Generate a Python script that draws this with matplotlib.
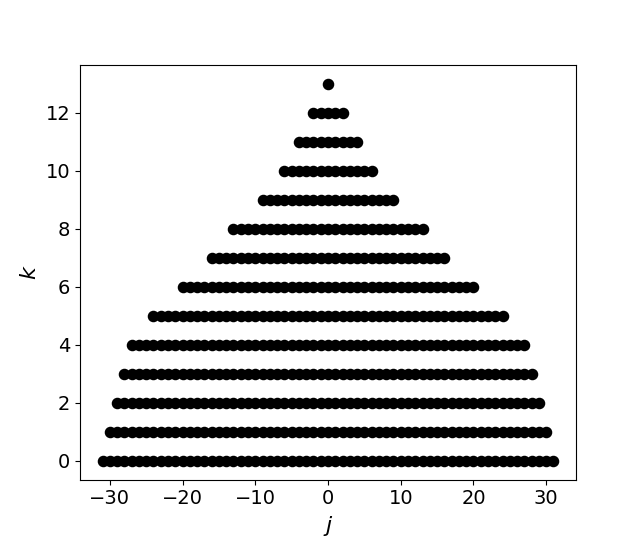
import numpy as np
from matplotlib import pyplot as plt

# row index k and the largest |j| present in that row
k_values = [0, 1, 2, 3, 4, 5, 6, 7, 8, 9, 10, 11, 12, 13]
j_max = [31, 30, 29, 28, 27, 24, 20, 16, 13, 9, 6, 4, 2, 0]

j_points = []
k_points = []
for k, jm in zip(k_values, j_max):
    row = np.arange(-jm, jm + 1)
    j_points.extend(row)
    k_points.extend([k] * row.size)

figure = plt.figure(figsize=(6.4, 5.39), dpi=100)
ax = figure.add_subplot(1, 1, 1)
ax.plot(j_points, k_points, "o", color="black", markersize=7.3)

ax.set_xlabel("$j$", fontsize=16)
ax.set_ylabel("$k$", fontsize=16)
ax.tick_params(labelsize=14)
ax.set_yticks([0, 2, 4, 6, 8, 10, 12])

figure.savefig("out.png", dpi=100)
